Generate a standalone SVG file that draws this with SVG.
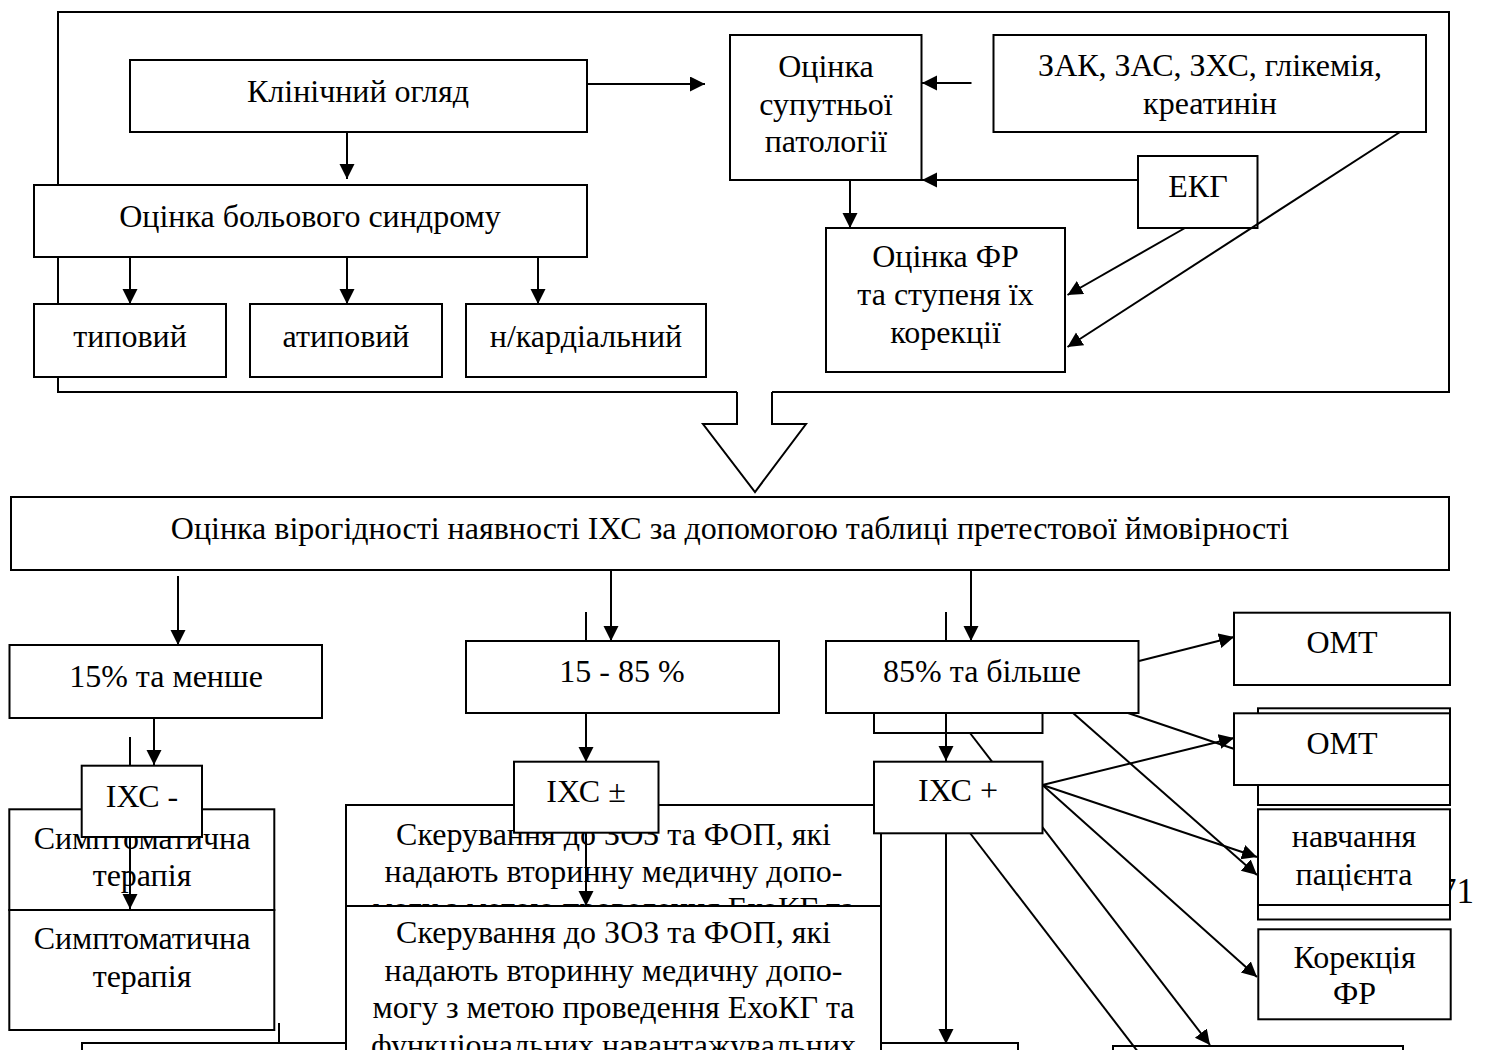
<svg xmlns="http://www.w3.org/2000/svg" width="1485" height="1050" viewBox="0 0 1485 1050">
  <style>
    .box { fill: #ffffff; stroke: #000000; stroke-width: 2; }
    .t { font-family: "Liberation Serif", "Times New Roman", serif; font-size: 32px; fill: #000000; text-anchor: middle; }
    .ln { fill: none; stroke: #000000; stroke-width: 2; }
    .ar { fill: none; stroke: #000000; stroke-width: 2; marker-end: url(#head); }
  </style>
  <defs>
    <marker id="head" markerUnits="userSpaceOnUse" markerWidth="16" markerHeight="16" refX="15" refY="7.5" orient="auto">
      <path d="M0,0 L15,7.5 L0,15 z" fill="#000000"/>
    </marker>
  </defs>
  <rect x="0" y="0" width="1485" height="1050" fill="#ffffff"/>

  <!-- page number -->
  <text x="1474" y="903" font-family="Liberation Serif, Times New Roman, serif" font-size="35" text-anchor="end">71</text>

  <!-- outer frame of the examination block and the hollow transition arrow -->
  <g id="frame">
    <path class="ln" d="M737,392 H58 V12 H1449 V392 H772"/>
    <path class="box" d="M737,392 V424 H703 L755,492 L806,424 H772 V392"/>
  </g>

  <!-- examination block -->
  <g id="klin"><rect class="box" x="130" y="60" width="457" height="72"/><text class="t" x="358" y="102">Клінічний огляд</text></g>
  <g id="bol"><rect class="box" x="34" y="185" width="553" height="72"/><text class="t" x="310" y="227">Оцінка больового синдрому</text></g>
  <g id="typ"><rect class="box" x="34" y="304" width="192" height="73"/><text class="t" x="130" y="347">типовий</text></g>
  <g id="atyp"><rect class="box" x="250" y="304" width="192" height="73"/><text class="t" x="346" y="347">атиповий</text></g>
  <g id="nkard"><rect class="box" x="466" y="304" width="240" height="73"/><text class="t" x="586" y="347">н/кардіальний</text></g>
  <g id="suput"><rect class="box" x="730" y="35" width="191.5" height="145"/>
    <text class="t" x="826" y="77">Оцінка</text><text class="t" x="826" y="114.5">супутньої</text><text class="t" x="826" y="152">патології</text></g>
  <g id="lab"><rect class="box" x="993.5" y="35" width="432.5" height="97"/>
    <text class="t" x="1210" y="76">ЗАК, ЗАС, ЗХС, глікемія,</text><text class="t" x="1210" y="113.5">креатинін</text></g>
  <g id="ekg"><rect class="box" x="1138" y="156" width="119.5" height="72"/><text class="t" x="1198" y="197">ЕКГ</text></g>
  <g id="fr"><rect class="box" x="826" y="228" width="239" height="144"/>
    <text class="t" x="945.5" y="267">Оцінка ФР</text><text class="t" x="945.5" y="305">та ступеня їх</text><text class="t" x="945.5" y="343">корекції</text></g>

  <!-- probability block -->
  <g id="pretest"><rect class="box" x="11" y="497" width="1438" height="73"/>
    <text class="t" x="730" y="539">Оцінка вірогідності наявності ІХС за допомогою таблиці претестової ймовірності</text></g>
  <g id="p15"><rect class="box" x="9.5" y="645" width="312.5" height="73"/><text class="t" x="166" y="687">15% та менше</text></g>
  <g id="p1585"><rect class="box" x="466" y="641" width="313" height="72"/><text class="t" x="622" y="682">15 - 85 %</text></g>
  <g id="p85back"><rect class="box" x="874" y="690" width="168.5" height="43"/></g>
  <g id="p85"><rect class="box" x="826" y="641" width="312.5" height="72"/><text class="t" x="982" y="682">85% та більше</text></g>
  <g id="omt1"><rect class="box" x="1234" y="612.7" width="216" height="72.3"/><text class="t" x="1342" y="653">ОМТ</text></g>
  <g id="omtback"><rect class="box" x="1258" y="708.3" width="192" height="96.7"/></g>
  <g id="navback"><rect class="box" x="1258" y="820" width="192" height="99.5"/></g>
  <g id="nav"><rect class="box" x="1258" y="809.3" width="192" height="95.7"/>
    <text class="t" x="1354" y="847">навчання</text><text class="t" x="1354" y="885">пацієнта</text></g>
  <g id="kor"><rect class="box" x="1258.3" y="929.3" width="192.4" height="90"/>
    <text class="t" x="1354.5" y="968">Корекція</text><text class="t" x="1354.5" y="1004">ФР</text></g>
  <g id="sym1"><rect class="box" x="9.3" y="809.3" width="265" height="100.7"/>
    <text class="t" x="142" y="849">Симптоматична</text><text class="t" x="142" y="886">терапія</text></g>
  <g id="sym2"><rect class="box" x="9.3" y="910" width="265" height="120"/>
    <text class="t" x="142" y="949">Симптоматична</text><text class="t" x="142" y="987">терапія</text></g>
  <g id="bottomwide"><rect class="box" x="82" y="1043" width="936" height="30"/></g>
  <g id="bottomright"><rect class="box" x="1113" y="1046" width="290" height="30"/></g>
  <g id="sk1"><rect class="box" x="346" y="805" width="535" height="120"/>
    <text class="t" x="613.5" y="845">Скерування до ЗОЗ та ФОП, які</text>
    <text class="t" x="613.5" y="882">надають вторинну медичну допо-</text>
    <text class="t" x="613.5" y="919">могу з метою проведення ЕхоКГ та</text></g>
  <g id="sk2"><rect class="box" x="346" y="906" width="535" height="160"/>
    <text class="t" x="613.5" y="943">Скерування до ЗОЗ та ФОП, які</text>
    <text class="t" x="613.5" y="981">надають вторинну медичну допо-</text>
    <text class="t" x="613.5" y="1018">могу з метою проведення ЕхоКГ та</text>
    <text class="t" x="613.5" y="1056">функціональних навантажувальних</text></g>

  <!-- connectors -->
  <g id="connectors">
    <path class="ar" d="M587,84 H705"/>
    <path class="ar" d="M347,132 V179"/>
    <path class="ar" d="M971.5,83 H922"/>
    <path class="ar" d="M1138,180 H922"/>
    <path class="ar" d="M850,180 V228"/>
    <path class="ar" d="M1185,228 L1067.5,295"/>
    <path class="ar" d="M1400,132 L1067.5,347"/>
    <path class="ar" d="M130,257 V304"/>
    <path class="ar" d="M347,257 V304"/>
    <path class="ar" d="M538,257 V304"/>

    <path class="ar" d="M178,576 V645"/>
    <path class="ar" d="M611,570 V641"/>
    <path class="ar" d="M971,570 V641"/>
    <path class="ln" d="M586,612 V641"/>
    <path class="ln" d="M946,612 V641"/>
    <path class="ar" d="M154,718 V765"/>
    <path class="ar" d="M130,737 V909"/>
    <path class="ar" d="M586,713 V762"/>
    <path class="ar" d="M586,833 V906"/>
    <path class="ar" d="M946,713 V761"/>
    <path class="ar" d="M946,833 V1044"/>
    <path class="ln" d="M279,1023 V1043"/>

    <path class="ar" d="M1139,661 L1234,637"/>
    <path class="ar" d="M1128,713 L1258,757"/>
    <path class="ar" d="M1073,713 L1257,875"/>
    <path class="ar" d="M1042.5,785 L1234,738"/>
    <path class="ar" d="M1042.5,785 L1257,857"/>
    <path class="ar" d="M1042.5,785 L1257,977"/>
    <path class="ar" d="M970,733 L1210,1045"/>
    <path class="ln" d="M970,833 L1145,1061"/>
  </g>

  <!-- diagnosis nodes drawn over the lines that pass behind them -->
  <g id="ihs-minus"><rect class="box" x="81.7" y="765.7" width="120.3" height="71.3"/><text class="t" x="142" y="807">ІХС -</text></g>
  <g id="ihs-pm"><rect class="box" x="514" y="761.7" width="144.5" height="71"/><text class="t" x="586" y="802">ІХС ±</text></g>
  <g id="ihs-plus"><rect class="box" x="874" y="761.7" width="168.5" height="71.6"/><text class="t" x="958" y="801">ІХС +</text></g>
  <g id="omt2"><rect class="box" x="1234" y="713.3" width="216" height="71.7"/><text class="t" x="1342" y="754">ОМТ</text></g>
</svg>
